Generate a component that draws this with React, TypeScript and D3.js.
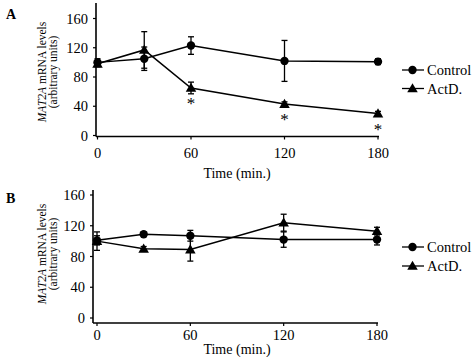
import React from "react";
import * as d3 from "d3";

const times = [0, 30, 60, 120, 180];
const xTicks = [0, 60, 120, 180];
const yTicks = [0, 40, 80, 120, 160];

const aControl = [100, 105, 123, 102, 101];
const aControlErr = [5, 16, 12, 28, 4];
const aActD = [98, 117, 65, 43, 30];
const aActDErr = [4, 25, 8, 3, 3];
const aStars = [false, false, true, true, true];

const bControl = [101, 109, 107, 102, 102];
const bControlErr = [6, 3, 7, 10, 7];
const bActD = [100, 90, 89, 124, 113];
const bActDErr = [12, 3, 15, 11, 5];
const bStars = [false, false, false, false, false];

const seriesNames = ["Control", "ActD."];
const FONT = "'Liberation Serif', 'Times New Roman', Times, serif";

type PanelProps = {
  label: string;
  control: number[];
  controlErr: number[];
  actD: number[];
  actDErr: number[];
  stars: boolean[];
  x0: number;
  x1: number;
  yBottom: number;
  yTop: number;
  axisX: number;
  axisTop: number;
  axisBottom: number;
  labelY: number;
  legendY: number[];
  tickDy: number;
  titleDy: number;
  yLabelY: number;
};

function Marker({ kind, x, y }: { kind: string; x: number; y: number }) {
  if (kind === "circle") return <circle cx={x} cy={y} r={4.2} fill="#000" />;
  const p = d3.symbol().type(d3.symbolTriangle).size(48)()!;
  return <path d={p} transform={`translate(${x},${y + 0.8})`} fill="#000" />;
}

function Panel(p: PanelProps) {
  const x = d3.scaleLinear().domain([0, 180]).range([p.x0, p.x1]);
  const y = d3.scaleLinear().domain([0, 160]).range([p.yBottom, p.yTop]);
  const line = d3
    .line<number>()
    .x((_, i) => x(times[i]))
    .y((d) => y(d));
  const series = [
    { vals: p.control, err: p.controlErr, kind: "circle" },
    { vals: p.actD, err: p.actDErr, kind: "triangle" },
  ];
  const ts = { fontFamily: FONT };
  return (
    <g>
      <text x={6} y={p.labelY} style={ts} fontWeight="bold" fontSize={14}>
        {p.label}
      </text>
      <line x1={p.axisX} x2={p.axisX} y1={p.axisTop} y2={p.axisBottom} stroke="#000" strokeWidth={1.6} />
      <line x1={p.axisX} x2={x(180) + 1} y1={p.axisBottom} y2={p.axisBottom} stroke="#000" strokeWidth={1.6} />
      {yTicks.map((t) => (
        <g key={t}>
          <line x1={p.axisX - 3} x2={p.axisX} y1={y(t)} y2={y(t)} stroke="#000" strokeWidth={1.2} />
          <text x={p.axisX - 8} y={y(t)} dy="0.35em" textAnchor="end" style={ts} fontSize={14.5}>
            {t}
          </text>
        </g>
      ))}
      {xTicks.map((t) => (
        <g key={t}>
          <line x1={x(t)} x2={x(t)} y1={p.axisBottom} y2={p.axisBottom + 3} stroke="#000" strokeWidth={1.2} />
          <text x={x(t)} y={p.axisBottom + p.tickDy} textAnchor="middle" style={ts} fontSize={14.5}>
            {t}
          </text>
        </g>
      ))}
      <text x={237} y={p.axisBottom + p.titleDy} textAnchor="middle" style={ts} fontSize={14}>
        Time (min.)
      </text>
      <g transform={`translate(46,${p.yLabelY}) rotate(-90)`}>
        <text x={0} y={0} textAnchor="middle" style={ts} fontSize={11.5}>
          <tspan fontStyle="italic">MAT2A</tspan> mRNA levels
        </text>
        <text x={0} y={11} textAnchor="middle" style={ts} fontSize={11.5}>
          (arbitrary units)
        </text>
      </g>
      {series.map((s, si) => (
        <g key={si}>
          <path d={line(s.vals)!} fill="none" stroke="#000" strokeWidth={1.5} />
          {s.vals.map((v, i) => (
            <g key={i}>
              <line x1={x(times[i])} x2={x(times[i])} y1={y(v - s.err[i])} y2={y(v + s.err[i])} stroke="#000" strokeWidth={1.3} />
              <line x1={x(times[i]) - 3} x2={x(times[i]) + 3} y1={y(v + s.err[i])} y2={y(v + s.err[i])} stroke="#000" strokeWidth={1.3} />
              <line x1={x(times[i]) - 3} x2={x(times[i]) + 3} y1={y(v - s.err[i])} y2={y(v - s.err[i])} stroke="#000" strokeWidth={1.3} />
              <Marker kind={s.kind} x={x(times[i])} y={y(v)} />
            </g>
          ))}
        </g>
      ))}
      {p.stars.map((st, i) =>
        st ? (
          <text key={i} x={x(times[i])} y={y(p.actD[i]) + 21} textAnchor="middle" style={ts} fontSize={17}>
            *
          </text>
        ) : null
      )}
      {series.map((s, si) => (
        <g key={si}>
          <line x1={402} x2={424} y1={p.legendY[si]} y2={p.legendY[si]} stroke="#000" strokeWidth={1.3} />
          <Marker kind={s.kind} x={412.5} y={p.legendY[si]} />
          <text x={427} y={p.legendY[si]} dy="0.35em" style={ts} fontSize={14.5}>
            {seriesNames[si]}
          </text>
        </g>
      ))}
    </g>
  );
}

export default function App() {
  return (
    <svg width={474} height={357} style={{ position: "absolute", left: 0, top: 0, background: "#fff" }}>
      <rect width={474} height={357} fill="#fff" />
      <Panel
        label="A"
        control={aControl}
        controlErr={aControlErr}
        actD={aActD}
        actDErr={aActDErr}
        stars={aStars}
        x0={97.5}
        x1={378}
        yBottom={135.5}
        yTop={18.5}
        axisX={96}
        axisTop={3}
        axisBottom={136.5}
        labelY={19}
        legendY={[70, 88.5]}
        tickDy={21}
        titleDy={41}
        yLabelY={72}
      />
      <Panel
        label="B"
        control={bControl}
        controlErr={bControlErr}
        actD={bActD}
        actDErr={bActDErr}
        stars={bStars}
        x0={97}
        x1={377}
        yBottom={318}
        yTop={195}
        axisX={93}
        axisTop={190}
        axisBottom={323}
        labelY={203}
        legendY={[247, 266]}
        tickDy={17}
        titleDy={31}
        yLabelY={254}
      />
    </svg>
  );
}
